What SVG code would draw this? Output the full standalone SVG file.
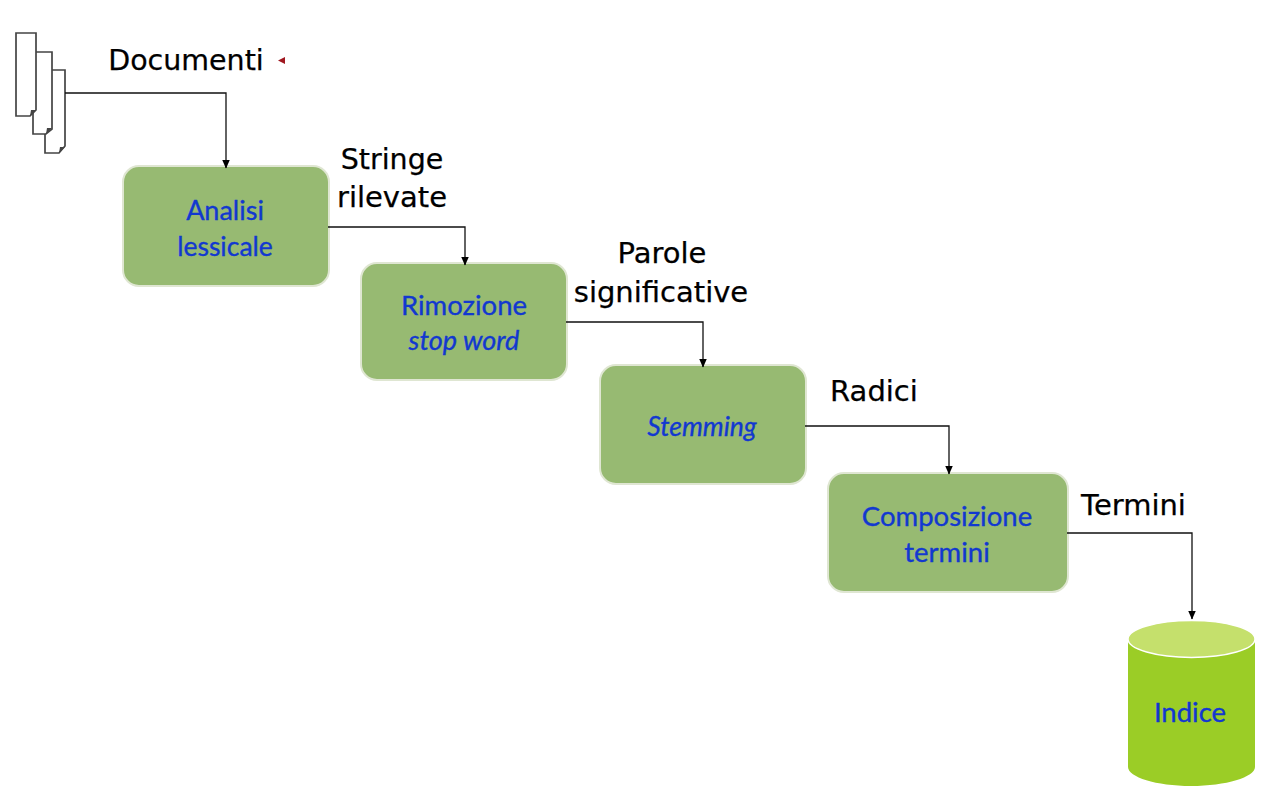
<svg xmlns="http://www.w3.org/2000/svg" width="1278" height="798" viewBox="0 0 1278 798">
<style>
.box{fill:#97ba72;stroke:#dfe6d2;stroke-width:2}
.lbl{font-family:"Lato","Open Sans",sans-serif;font-size:27.500px;fill:#1238d0;stroke:#1238d0;stroke-width:.35;text-anchor:middle}
.cap{font-family:"DejaVu Sans","Liberation Sans",sans-serif;font-size:29px;fill:#000;stroke:#000;stroke-width:.25;text-anchor:middle}
.con{fill:none;stroke:#111;stroke-width:1.300}
.doc{fill:#fff;stroke:#444;stroke-width:1.700}
.fold{fill:#444}
</style>
<defs>
<marker id="arr" markerUnits="userSpaceOnUse" markerWidth="10" markerHeight="10" refX="8.500" refY="4.500" orient="auto"><path d="M0 0.500L9 4.500L0 8.500Z" fill="#000"/></marker>
</defs>
<rect width="1278" height="798" fill="#fff"/>
<g id="documents">
<path class="doc" d="M45 70H65V146L59 153H45Z"/>
<path class="doc" d="M33 52H52V129L46 134H33Z"/>
<path class="doc" d="M16 33H36V110L30 116H16Z"/>
<path class="fold" d="M30 116L31 110H36Z"/><path class="fold" d="M46 134L47 128H52Z"/><path class="fold" d="M59 153L60 147H65Z"/>
</g>
<path id="marker-tick" d="M278 60.500L285 57V64Z" fill="#a01820"/>
<g id="captions">
<text class="cap" x="186" y="69.500" style="font-size:28.500px">Documenti</text>
<text class="cap" x="392" y="168.500" style="font-size:28.500px">Stringe</text>
<text class="cap" x="392" y="207">rilevate</text>
<text class="cap" x="662" y="263">Parole</text>
<text class="cap" x="661" y="302">significative</text>
<text class="cap" x="874" y="401">Radici</text>
<text class="cap" x="1133.500" y="515">Termini</text>
</g>
<g id="analisi"><rect class="box" x="123" y="166" width="206" height="120" rx="16"/><text class="lbl" x="225" y="220" style="font-size:27px">Analisi</text><text class="lbl" x="225" y="256" style="font-size:26.500px">lessicale</text></g>
<g id="rimozione"><rect class="box" x="361" y="263" width="206" height="117" rx="16"/><text class="lbl" x="464" y="315">Rimozione</text><text class="lbl" x="464" y="350" font-style="italic" style="font-size:27px">stop word</text></g>
<g id="stemming"><rect class="box" x="600" y="365" width="206" height="119" rx="16"/><text class="lbl" x="702" y="436" font-style="italic" style="font-size:26.500px">Stemming</text></g>
<g id="composizione"><rect class="box" x="828" y="473" width="240" height="119" rx="16"/><text class="lbl" x="947" y="526">Composizione</text><text class="lbl" x="947" y="562">termini</text></g>
<g id="indice">
<path d="M1128 639V767C1128 777 1156 786 1191 786S1255 777 1255 767V639Z" fill="#9bcd26"/>
<ellipse cx="1191.500" cy="639" rx="63.500" ry="18.500" fill="#c5e06c" stroke="#fff" stroke-width="1.500"/>
<text class="lbl" x="1190" y="722">Indice</text>
</g>
<g id="connectors">
<path class="con" d="M65 93H226V168" marker-end="url(#arr)"/>
<path class="con" d="M328 227H465V265" marker-end="url(#arr)"/>
<path class="con" d="M566 322H703V367" marker-end="url(#arr)"/>
<path class="con" d="M805 426H949V474" marker-end="url(#arr)"/>
<path class="con" d="M1067 533H1192V619" marker-end="url(#arr)"/>
</g>
</svg>
